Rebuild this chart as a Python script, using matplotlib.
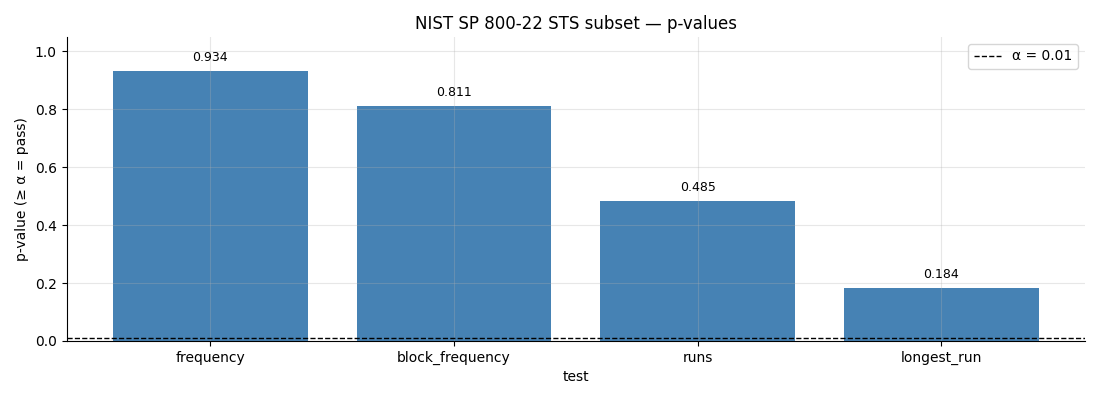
import matplotlib
matplotlib.use("Agg")
import matplotlib.pyplot as plt

tests = ["frequency", "block_frequency", "runs", "longest_run"]
p_values = [0.934, 0.811, 0.485, 0.184]
alpha = 0.01

fig, ax = plt.subplots(figsize=(11, 4), dpi=100)
fig.subplots_adjust(left=0.0605, right=0.9865, top=0.9075, bottom=0.1475)

bars = ax.bar(tests, p_values, color="steelblue", width=0.8)
ax.axhline(alpha, color="black", linestyle="--", linewidth=1, label=f"α = {alpha}")
for b, v in zip(bars, p_values):
    ax.annotate(f"{v:.3f}", (b.get_x() + b.get_width() / 2, v), xytext=(0, 5),
                textcoords="offset points", ha="center", va="bottom", fontsize=9)

ax.set_ylim(0, 1.05)
ax.set_xlabel("test")
ax.set_ylabel("p-value (≥ α = pass)")
ax.set_title("NIST SP 800-22 STS subset — p-values")
ax.grid(True, alpha=0.3)
ax.spines["top"].set_visible(False)
ax.spines["right"].set_visible(False)
ax.legend(loc="upper right")

fig.savefig("out.png")
